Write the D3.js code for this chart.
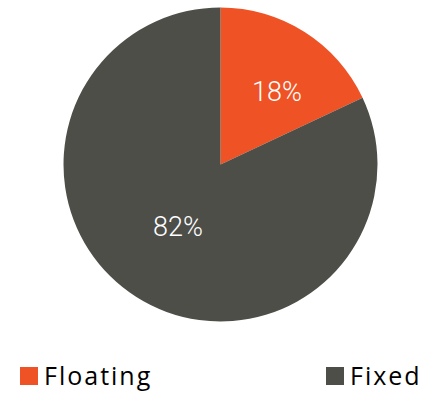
<!DOCTYPE html>
<html><head><meta charset="utf-8">
<script src="https://cdn.jsdelivr.net/npm/d3@7"></script>
<style>body{margin:0;background:#fff}</style>
</head><body>
<svg id="c" width="428" height="395"></svg>
<script>
const categories = ["Floating", "Fixed"];
const values = [18, 82];
const labels = ["18%", "82%"];
const colors = ["#EF5224", "#4E4E49"];

const svg = d3.select("#c");
const cx = 220.5, cy = 164.5, R = 157;
const g = svg.append("g").attr("transform", `translate(${cx},${cy})`);
const pie = d3.pie().sort(null).value(d => d)(values);
const arc = d3.arc().innerRadius(0).outerRadius(R);
const color = d3.scaleOrdinal().domain(categories).range(colors);

g.selectAll("path").data(pie).join("path")
  .attr("d", arc)
  .attr("fill", (d, i) => color(categories[i]));

const labelArc = d3.arc().innerRadius(0).outerRadius(R);
const offsets = [[14.5, -6.7], [-0.4, -3.8]];
g.selectAll("text.lbl").data(pie).join("text")
  .attr("class", "lbl")
  .attr("transform", (d, i) => {
    const c = labelArc.centroid(d);
    return `translate(${c[0] + offsets[i][0]},${c[1] + offsets[i][1]})`;
  })
  .attr("text-anchor", "middle")
  .attr("dy", "0.35em")
  .attr("fill", "#fff")
  .style("font-family", "Roboto")
  .style("font-weight", 300)
  .style("font-size", "27px")
  .text((d, i) => labels[i]);

const legendX = [20, 326];
const lg = svg.selectAll("g.leg").data(categories).join("g")
  .attr("class", "leg")
  .attr("transform", (d, i) => `translate(${legendX[i]},367)`);
lg.append("rect").attr("width", 18).attr("height", 18).attr("fill", d => color(d));
lg.append("text").attr("x", 24).attr("y", 18)
  .style("font-family", "Open Sans")
  .style("font-size", "25px")
  .style("letter-spacing", "2px")
  .attr("fill", "#000")
  .text(d => d);
</script>
</body></html>
